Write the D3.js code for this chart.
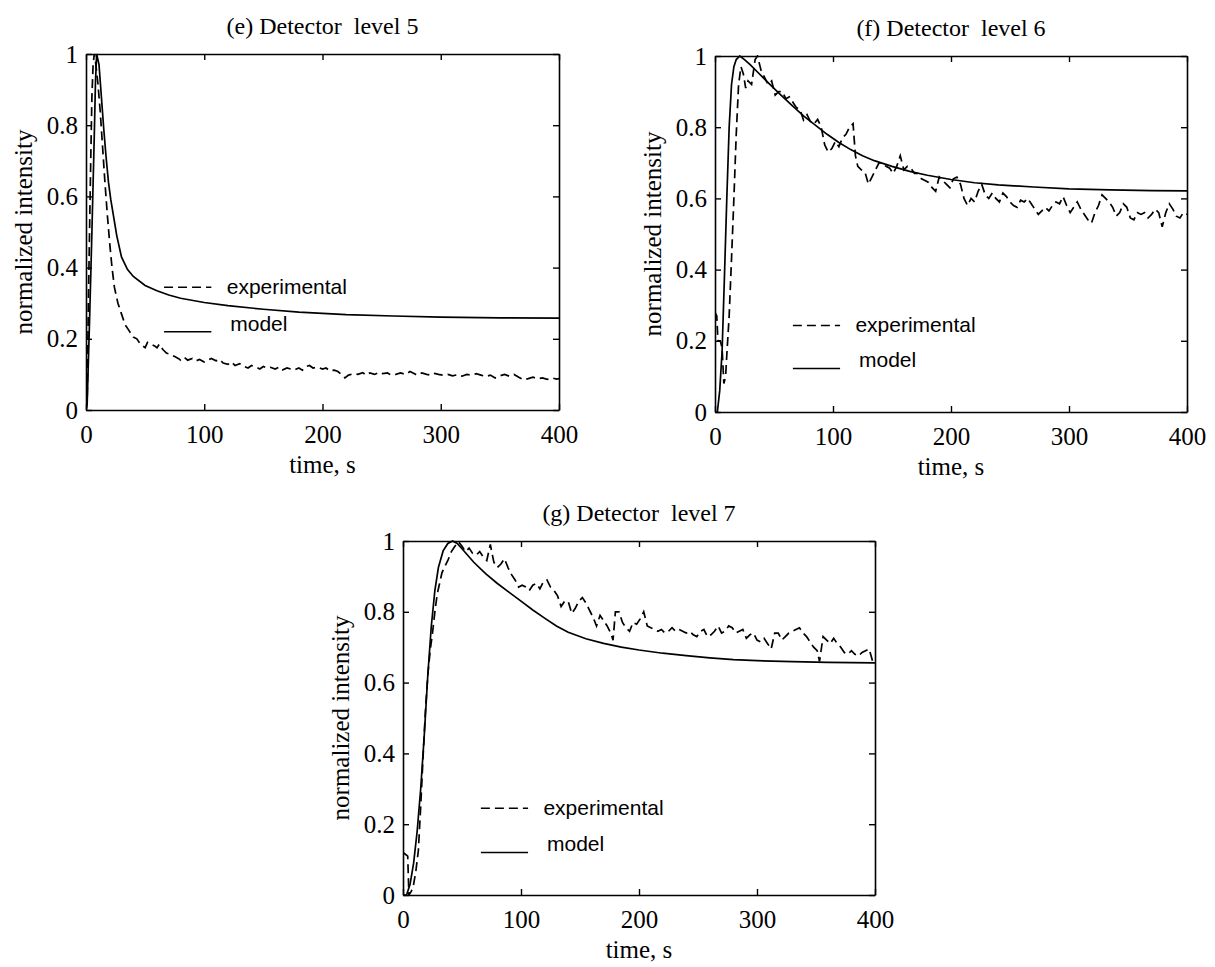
<!DOCTYPE html>
<html><head><meta charset="utf-8">
<script src="https://cdn.jsdelivr.net/npm/d3@7"></script>
<style>
body{margin:0;background:#fff;}
text{fill:#000;}
</style></head>
<body>
<svg id="chart" width="1215" height="967"></svg>
<script>
// ---------- data ----------
const xTicks = [0, 100, 200, 300, 400];
const yTicks = [0, 0.2, 0.4, 0.6, 0.8, 1];
const yTickLabels = ["0", "0.2", "0.4", "0.6", "0.8", "1"];
const panelTitles = ["(e) Detector  level 5", "(f) Detector  level 6", "(g) Detector  level 7"];
const legendLabels = ["experimental", "model"];
const xLabel = "time, s";
const yLabel = "normalized intensity";

// panel (e) level 5: [time s, normalized intensity]
const expE = [[0,0],[1,0.02],[2,0.3],[3,0.5],[4,0.7],[5,0.88],[6,0.97],[7,1.0],[8,0.98],[10,0.92],[12,0.84],[14,0.74],[16,0.64],[18,0.55],[20,0.47],[22,0.4],[24,0.345],[27,0.3],[30,0.27],[33,0.24],[36,0.225],[40,0.205],[43,0.2],[45,0.19],[48,0.18],[50,0.175],[52,0.19],[55,0.185],[58,0.18],[60,0.175],[62,0.185],[65,0.17],[68,0.16],[72,0.155],[75,0.15],[78,0.145],[80,0.14],[83,0.148],[86,0.14],[90,0.145],[93,0.138],[96,0.142],[100,0.135],[103,0.14],[106,0.145],[110,0.138],[113,0.142],[116,0.132],[120,0.128],[123,0.135],[126,0.125],[130,0.13],[134,0.122],[137,0.118],[140,0.125],[144,0.12],[147,0.115],[150,0.122],[153,0.118],[156,0.12],[160,0.115],[163,0.12],[166,0.112],[170,0.118],[173,0.115],[176,0.112],[180,0.118],[183,0.112],[186,0.122],[189,0.125],[192,0.118],[196,0.12],[200,0.115],[203,0.118],[206,0.11],[210,0.112],[213,0.108],[216,0.1],[219,0.09],[222,0.098],[226,0.102],[230,0.1],[234,0.105],[237,0.098],[240,0.104],[244,0.1],[248,0.106],[251,0.102],[255,0.104],[258,0.098],[262,0.1],[266,0.104],[270,0.1],[274,0.108],[277,0.103],[280,0.098],[284,0.104],[288,0.1],[292,0.098],[295,0.103],[298,0.1],[302,0.098],[306,0.1],[310,0.096],[314,0.099],[318,0.095],[322,0.1],[326,0.098],[330,0.102],[334,0.098],[338,0.094],[342,0.098],[346,0.09],[350,0.096],[354,0.1],[358,0.095],[362,0.1],[366,0.092],[370,0.085],[374,0.088],[378,0.092],[382,0.088],[386,0.09],[390,0.086],[394,0.09],[398,0.087],[400,0.088]];
const modelE = [[0,0],[1,0.02],[3,0.25],[5,0.5],[7,0.77],[8,0.92],[9,1.0],[11,0.97],[13,0.88],[15,0.79],[17,0.71],[19,0.64],[21,0.59],[23,0.55],[26,0.49],[30,0.43],[35,0.395],[40,0.375],[50,0.35],[60,0.335],[70,0.323],[80,0.314],[100,0.302],[120,0.293],[150,0.283],[180,0.275],[220,0.268],[260,0.264],[300,0.261],[350,0.259],[400,0.258]];

// panel (f) level 6
const expF = [[0,0.28],[1.5,0.27],[2.5,0.2],[4.5,0.2],[6,0.18],[7.5,0.08],[9,0.1],[10,0.16],[12,0.27],[14,0.43],[16,0.6],[18,0.78],[20,0.92],[22,0.97],[24,0.95],[26,0.91],[28,0.93],[31,0.92],[34,0.99],[36,1.0],[39,0.96],[42,0.94],[45,0.92],[48,0.93],[51,0.89],[54,0.9],[57,0.9],[60,0.88],[63,0.885],[66,0.87],[69,0.855],[72,0.85],[75,0.82],[78,0.835],[81,0.815],[84,0.81],[87,0.822],[90,0.8],[93,0.75],[96,0.73],[99,0.74],[102,0.76],[105,0.745],[108,0.77],[111,0.78],[114,0.8],[117,0.81],[119,0.72],[121,0.69],[124,0.68],[127,0.675],[130,0.64],[133,0.66],[136,0.68],[139,0.7],[142,0.7],[145,0.69],[148,0.685],[151,0.67],[154,0.69],[157,0.72],[160,0.68],[163,0.69],[166,0.685],[169,0.67],[172,0.67],[175,0.655],[178,0.65],[181,0.645],[184,0.63],[187,0.62],[190,0.66],[193,0.65],[196,0.64],[199,0.63],[202,0.655],[205,0.66],[208,0.64],[211,0.6],[214,0.58],[217,0.6],[220,0.59],[223,0.62],[226,0.64],[229,0.61],[232,0.6],[235,0.615],[238,0.6],[241,0.59],[244,0.615],[247,0.605],[250,0.59],[253,0.58],[256,0.575],[259,0.595],[262,0.59],[265,0.6],[268,0.585],[271,0.57],[274,0.555],[277,0.565],[280,0.575],[283,0.565],[286,0.58],[289,0.59],[292,0.585],[295,0.605],[298,0.58],[301,0.56],[304,0.575],[307,0.59],[310,0.57],[313,0.555],[316,0.54],[319,0.53],[322,0.56],[325,0.58],[328,0.61],[331,0.6],[334,0.59],[337,0.575],[340,0.55],[343,0.56],[346,0.585],[349,0.575],[352,0.545],[355,0.54],[358,0.56],[361,0.555],[364,0.56],[367,0.545],[370,0.555],[373,0.57],[376,0.56],[379,0.52],[382,0.56],[385,0.585],[388,0.57],[391,0.55],[394,0.545],[397,0.56],[400,0.555]];
const modelF = [[0,0],[2,0],[4,0.06],[6,0.17],[8,0.38],[10,0.6],[12,0.8],[14,0.92],[16,0.97],[18,0.99],[21,1.0],[25,0.99],[30,0.975],[36,0.955],[45,0.925],[55,0.893],[65,0.862],[75,0.832],[85,0.806],[95,0.78],[105,0.757],[115,0.737],[125,0.72],[135,0.706],[150,0.69],[165,0.676],[180,0.665],[200,0.653],[220,0.644],[240,0.638],[270,0.632],[300,0.627],[335,0.624],[370,0.622],[400,0.621]];

// panel (g) level 7
const expG = [[0,0.12],[2,0.115],[4,0.11],[5,0.0],[7,0.01],[9,0.03],[11,0.07],[13,0.125],[15,0.25],[17,0.39],[19,0.52],[21,0.62],[23,0.69],[25,0.74],[27,0.8],[29,0.85],[31,0.88],[33,0.91],[35,0.925],[38,0.945],[41,0.97],[44,0.985],[47,0.998],[50,0.985],[53,0.97],[56,0.98],[59,0.965],[62,0.96],[65,0.97],[68,0.955],[71,0.945],[74,0.99],[77,0.94],[80,0.925],[83,0.935],[86,0.95],[89,0.925],[92,0.905],[95,0.89],[98,0.87],[101,0.875],[104,0.87],[107,0.86],[110,0.875],[113,0.88],[116,0.865],[119,0.885],[122,0.89],[125,0.87],[128,0.86],[131,0.845],[134,0.815],[137,0.83],[140,0.83],[143,0.795],[146,0.81],[149,0.83],[152,0.84],[155,0.825],[158,0.805],[161,0.785],[164,0.76],[167,0.79],[170,0.775],[173,0.76],[176,0.74],[178,0.72],[180,0.8],[183,0.8],[186,0.77],[189,0.755],[192,0.745],[195,0.77],[198,0.765],[201,0.78],[204,0.8],[207,0.76],[210,0.755],[213,0.75],[216,0.745],[219,0.75],[222,0.74],[225,0.745],[228,0.755],[231,0.745],[234,0.75],[237,0.745],[240,0.74],[243,0.745],[246,0.735],[249,0.73],[252,0.745],[255,0.75],[258,0.73],[261,0.735],[264,0.745],[267,0.76],[270,0.74],[273,0.745],[276,0.76],[279,0.755],[282,0.74],[285,0.745],[288,0.75],[291,0.725],[294,0.735],[297,0.74],[300,0.72],[303,0.715],[306,0.725],[309,0.71],[312,0.695],[315,0.74],[318,0.74],[321,0.72],[324,0.73],[327,0.74],[330,0.745],[333,0.75],[336,0.755],[339,0.74],[342,0.73],[345,0.715],[348,0.7],[351,0.69],[353,0.66],[356,0.73],[359,0.72],[362,0.71],[365,0.725],[368,0.71],[371,0.7],[374,0.685],[377,0.68],[380,0.69],[383,0.68],[386,0.675],[389,0.685],[392,0.69],[395,0.695],[398,0.66],[400,0.655]];
const modelG = [[0,0],[3,0],[6,0.03],[9,0.09],[12,0.18],[15,0.3],[18,0.45],[21,0.62],[24,0.76],[27,0.86],[30,0.925],[34,0.972],[38,0.993],[42,1.0],[46,0.993],[50,0.978],[60,0.94],[70,0.908],[80,0.88],[90,0.855],[100,0.83],[110,0.805],[120,0.782],[130,0.76],[140,0.742],[155,0.724],[170,0.711],[185,0.7],[200,0.692],[220,0.683],[240,0.676],[260,0.67],[280,0.665],[300,0.662],[330,0.659],[360,0.657],[400,0.656]];

// legend anchor positions in data units (intensity) per panel
const legendExpY = [0.345, 0.243, 0.245];
const legendModelY = [0.22, 0.122, 0.12];

// ---------- layout ----------
const panels = [
  {box:{l:86, r:559, t:54, b:410}, exp:expE, model:modelE, title:panelTitles[0], lg:0},
  {box:{l:715, r:1187, t:56, b:412}, exp:expF, model:modelF, title:panelTitles[1], lg:1},
  {box:{l:403, r:875, t:541, b:895}, exp:expG, model:modelG, title:panelTitles[2], lg:2}
];

const svg = d3.select("#chart");
const serif = "'Liberation Serif','Times New Roman',serif";
const sans = "'Liberation Sans',Arial,Helvetica,sans-serif";

panels.forEach((p, i) => {
  const b = p.box;
  const x = d3.scaleLinear().domain([0, 400]).range([b.l, b.r]);
  const y = d3.scaleLinear().domain([0, 1]).range([b.b, b.t]);
  const g = svg.append("g");

  const clipId = "clip" + i;
  g.append("clipPath").attr("id", clipId).append("rect")
    .attr("x", b.l).attr("y", b.t - 1).attr("width", b.r - b.l).attr("height", b.b - b.t + 2);

  const line = d3.line().x(d => x(d[0])).y(d => y(d[1]));

  // model (solid)
  g.append("path").datum(p.model).attr("d", line)
    .attr("fill", "none").attr("stroke", "#000").attr("stroke-width", 1.7)
    .attr("clip-path", `url(#${clipId})`);
  // experimental (dashed)
  g.append("path").datum(p.exp).attr("d", line)
    .attr("fill", "none").attr("stroke", "#000").attr("stroke-width", 1.7)
    .attr("stroke-dasharray", "9,5")
    .attr("clip-path", `url(#${clipId})`);

  // axes (ticks pointing inward)
  const fmtY = d => yTickLabels[yTicks.indexOf(d)];
  const axB = g.append("g").attr("transform", `translate(0,${b.b})`)
    .call(d3.axisBottom(x).tickValues(xTicks).tickSizeInner(-6).tickSizeOuter(0).tickPadding(15));
  const axL = g.append("g").attr("transform", `translate(${b.l},0)`)
    .call(d3.axisLeft(y).tickValues(yTicks).tickFormat(fmtY).tickSizeInner(-6).tickSizeOuter(0).tickPadding(8));
  const axT = g.append("g").attr("transform", `translate(0,${b.t})`)
    .call(d3.axisTop(x).tickValues(xTicks).tickFormat("").tickSizeInner(-6).tickSizeOuter(0));
  const axR = g.append("g").attr("transform", `translate(${b.r},0)`)
    .call(d3.axisRight(y).tickValues(yTicks).tickFormat("").tickSizeInner(-6).tickSizeOuter(0));
  [axB, axL, axT, axR].forEach(a => {
    a.selectAll("path.domain").attr("stroke", "#000").attr("stroke-width", 1.6);
    a.selectAll("line").attr("stroke", "#000").attr("stroke-width", 1.4);
    a.selectAll("text").attr("font-family", serif).attr("font-size", 25).attr("fill", "#000");
  });

  // title
  g.append("text").attr("x", (b.l + b.r) / 2).attr("y", b.t - 20)
    .attr("text-anchor", "middle").attr("font-family", serif).attr("font-size", 24)
    .style("white-space", "pre").text(p.title);
  // x label
  g.append("text").attr("x", (b.l + b.r) / 2).attr("y", b.b + 63)
    .attr("text-anchor", "middle").attr("font-family", serif).attr("font-size", 25)
    .text(xLabel);
  // y label
  g.append("text").attr("transform", `translate(${b.l - 54},${(b.t + b.b) / 2}) rotate(-90)`)
    .attr("text-anchor", "middle").attr("font-family", serif).attr("font-size", 25)
    .text(yLabel);

  // legend
  const ly1 = y(legendExpY[p.lg]), ly2 = y(legendModelY[p.lg]);
  g.append("line").attr("x1", x(66)).attr("x2", x(106)).attr("y1", ly1).attr("y2", ly1)
    .attr("stroke", "#000").attr("stroke-width", 1.6).attr("stroke-dasharray", "9,5");
  g.append("line").attr("x1", x(66)).attr("x2", x(106)).attr("y1", ly2).attr("y2", ly2)
    .attr("stroke", "#000").attr("stroke-width", 1.6);
  g.append("text").attr("x", x(119)).attr("y", ly1).attr("dy", "0.32em")
    .attr("font-family", sans).attr("font-size", 21).text(legendLabels[0]);
  g.append("text").attr("x", x(122)).attr("y", ly2 - 0.022 * (b.b - b.t)).attr("dy", "0.32em")
    .attr("font-family", sans).attr("font-size", 21).text(legendLabels[1]);
});
</script>
</body></html>
